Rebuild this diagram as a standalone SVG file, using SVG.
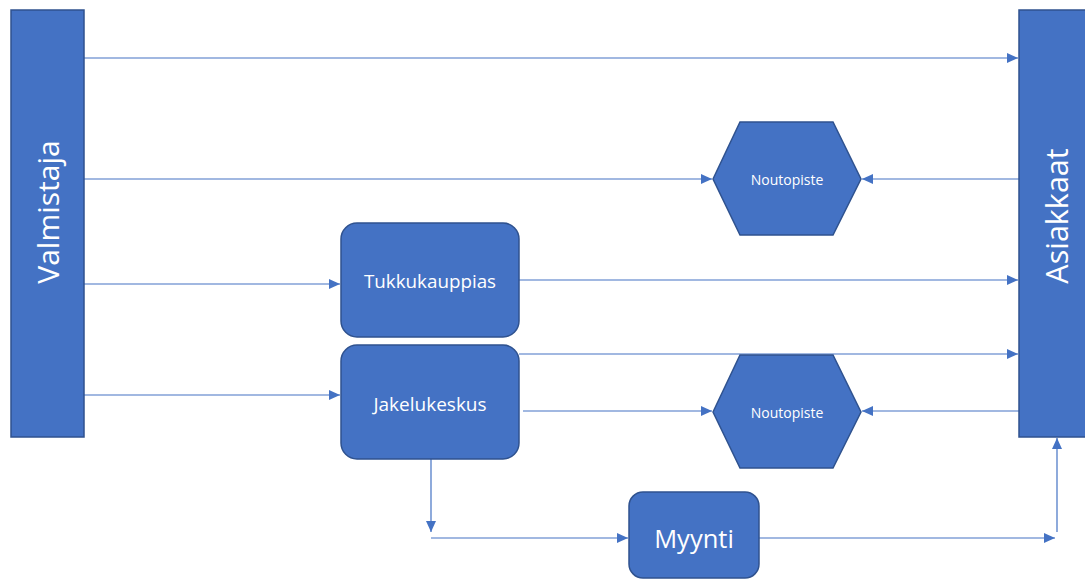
<svg xmlns="http://www.w3.org/2000/svg" width="1085" height="580" viewBox="0 0 1085 580">
<style>
.n{fill:#4472C4;stroke:#2F528F;stroke-width:1.5}
.t{fill:#fff;font-family:"Open Sans","Liberation Sans",sans-serif;text-anchor:middle;dominant-baseline:central}
.c{fill:none;stroke:#4472C4;stroke-width:1.2}
</style>
<defs>
<marker id="a" markerUnits="userSpaceOnUse" markerWidth="12" markerHeight="10" refX="11" refY="5" orient="auto"><path d="M0,0L11,5L0,10Z" fill="#4472C4"/></marker>
</defs>
<rect width="1085" height="580" fill="#fff"/>
<g id="connectors">
<path class="c" d="M84,58H1018" marker-end="url(#a)"/>
<path class="c" d="M84,179H712" marker-end="url(#a)"/>
<path class="c" d="M1019,179H862" marker-end="url(#a)"/>
<path class="c" d="M84,284H340" marker-end="url(#a)"/>
<path class="c" d="M519,280H1018" marker-end="url(#a)"/>
<path class="c" d="M84,395H340" marker-end="url(#a)"/>
<path class="c" d="M519,354H1018" marker-end="url(#a)"/>
<path class="c" d="M523,411H712" marker-end="url(#a)"/>
<path class="c" d="M1019,411H862" marker-end="url(#a)"/>
<path class="c" d="M431,459V532" marker-end="url(#a)"/>
<path class="c" d="M431,538H628" marker-end="url(#a)"/>
<path class="c" d="M759,538H1055" marker-end="url(#a)"/>
<path class="c" d="M1057,532V438" marker-end="url(#a)"/>
</g>
<g id="valmistaja">
<rect class="n" x="11" y="10" width="73" height="427"/>
<text class="t" transform="translate(47,212) rotate(-90)" font-size="30">Valmistaja</text>
</g>
<g id="asiakkaat">
<rect class="n" x="1019" y="10" width="72" height="427"/>
<text class="t" transform="translate(1056,216) rotate(-90)" font-size="30.5">Asiakkaat</text>
</g>
<g id="noutopiste1">
<polygon class="n" points="713,179 740,122 833,122 861,179 833,235 740,235"/>
<text class="t" x="787" y="179" font-size="14">Noutopiste</text>
</g>
<g id="noutopiste2">
<polygon class="n" points="713,412 740,355 833,355 861,412 833,468 740,468"/>
<text class="t" x="787" y="412" font-size="14">Noutopiste</text>
</g>
<g id="tukkukauppias">
<rect class="n" x="341" y="223" width="178" height="114" rx="16"/>
<text class="t" x="430" y="281" font-size="18.8">Tukkukauppias</text>
</g>
<g id="jakelukeskus">
<rect class="n" x="341" y="345" width="178" height="114" rx="16"/>
<text class="t" x="430" y="404" font-size="19">Jakelukeskus</text>
</g>
<g id="myynti">
<rect class="n" x="629" y="492" width="130" height="86" rx="14"/>
<text class="t" x="694" y="538" font-size="25.5">Myynti</text>
</g>
</svg>
